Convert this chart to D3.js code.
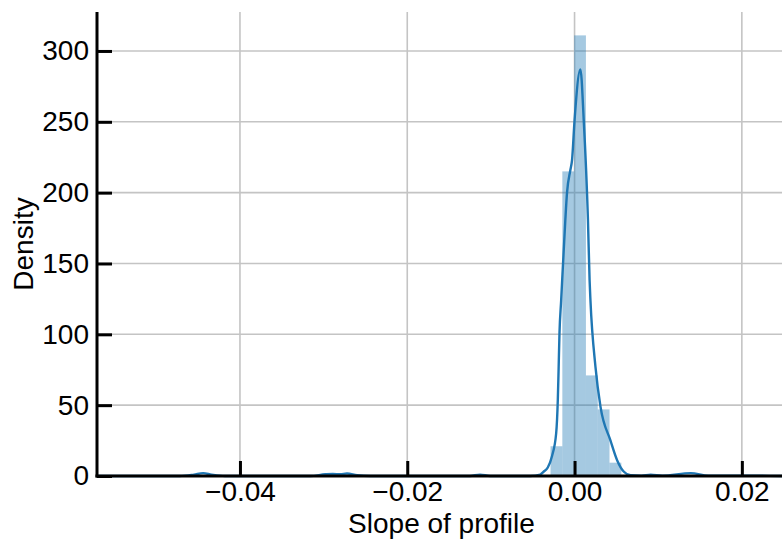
<!DOCTYPE html>
<html>
<head>
<meta charset="utf-8">
<script src="https://cdn.jsdelivr.net/npm/d3@7"></script>
<style>
  body { margin: 0; background: #fff; }
  text { font-family: "Liberation Sans", Arial, sans-serif; }
</style>
</head>
<body>
<div id="chart"></div>
<script>
// histogram bins (slope of profile) and their densities
const binEdges = [-0.00287, -0.00146, -0.00005, 0.00136, 0.00277, 0.00418, 0.00559];
const binDensity = [21, 215, 311, 71, 47, 9.4];

// kde curve
const kdeX = [-0.0571, -0.0472, -0.0455, -0.0444, -0.0434, -0.0418, -0.0316, -0.0298, -0.0289, -0.0280,
  -0.0272, -0.0260, -0.0244, -0.0125, -0.0113, -0.0101, -0.0053, -0.0041, -0.0037, -0.0032,
  -0.0027, -0.0022, -0.0020, -0.0019, -0.0018, -0.0016, -0.0011, -0.0009, -0.0005, -0.0003,
  0.0000, 0.0007, 0.0011, 0.0016, 0.0018, 0.0019, 0.0025, 0.0031, 0.0043, 0.0051,
  0.0059, 0.0067, 0.0080, 0.0091, 0.0105, 0.0139, 0.0160, 0.0190, 0.0249];
const kdeY = [0, 0, 1, 2, 1, 0, 0, 1.2, 1.5, 1.2,
  1.8, 0.5, 0, 0, 1, 0, 0, 1, 3, 6,
  14, 30, 54, 77, 101, 124, 181, 200, 216, 223,
  251, 287, 251, 181, 138, 124, 77, 49, 25, 11,
  3, 0.5, 0.3, 1, 0.3, 2, 0.3, 0.3, 0];

const xTicks = [-0.04, -0.02, 0.00, 0.02];
const yTicks = [0, 50, 100, 150, 200, 250, 300];

const width = 782, height = 540;
const margin = { top: 12, right: 0, bottom: 64, left: 97 };
const fontSize = "28px";

const x = d3.scaleLinear()
  .domain([-0.05709, 0.0248])
  .range([margin.left, width - margin.right]);
const y = d3.scaleLinear()
  .domain([0, 327.5])
  .range([height - margin.bottom, margin.top]);

const svg = d3.select("#chart").append("svg")
  .attr("width", width)
  .attr("height", height);

// grid
svg.append("g").attr("class", "grid")
  .selectAll("line.gx").data(xTicks).enter().append("line")
  .attr("x1", d => x(d)).attr("x2", d => x(d))
  .attr("y1", y.range()[0]).attr("y2", y.range()[1])
  .attr("stroke", "#c4c4c4").attr("stroke-width", 1.6);
svg.select(".grid")
  .selectAll("line.gy").data(yTicks).enter().append("line")
  .attr("x1", x.range()[0]).attr("x2", x.range()[1])
  .attr("y1", d => y(d)).attr("y2", d => y(d))
  .attr("stroke", "#c4c4c4").attr("stroke-width", 1.6);

// histogram bars
svg.append("g")
  .selectAll("rect").data(binDensity).enter().append("rect")
  .attr("x", (d, i) => x(binEdges[i]))
  .attr("width", (d, i) => x(binEdges[i + 1]) - x(binEdges[i]))
  .attr("y", d => y(d))
  .attr("height", d => y(0) - y(d))
  .attr("fill", "#1f77b4")
  .attr("fill-opacity", 0.4);

// kde line
const kde = kdeX.map((v, i) => [v, kdeY[i]]);
svg.append("path")
  .datum(kde)
  .attr("fill", "none")
  .attr("stroke", "#1f77b4")
  .attr("stroke-width", 2.4)
  .attr("stroke-linejoin", "round")
  .attr("d", d3.line().x(d => x(d[0])).y(d => y(d[1])).curve(d3.curveMonotoneX));

// axes, ticks pointing inward
const fmt = d => (d < 0 ? "\u2212" : "") + Math.abs(d).toFixed(2);
const xAxis = svg.append("g")
  .attr("transform", `translate(0,${y(0)})`)
  .call(d3.axisTop(x).tickValues(xTicks).tickSize(15).tickFormat(fmt));
xAxis.selectAll("text")
  .attr("y", 25)
  .attr("dy", null);

const yAxis = svg.append("g")
  .attr("transform", `translate(${x.range()[0]},0)`)
  .call(d3.axisRight(y).tickValues(yTicks).tickSize(15));
yAxis.selectAll("text")
  .attr("x", -8)
  .attr("text-anchor", "end");

svg.selectAll(".domain").remove();
svg.selectAll(".tick line").attr("stroke", "#000").attr("stroke-width", 3);
svg.selectAll(".tick text")
  .attr("fill", "#000")
  .attr("font-size", fontSize)
  .attr("font-family", "'Liberation Sans', Arial, sans-serif");

// spines
svg.append("line")
  .attr("x1", x.range()[0]).attr("x2", x.range()[0])
  .attr("y1", y.range()[1]).attr("y2", y(0) + 1.5)
  .attr("stroke", "#000").attr("stroke-width", 3);
svg.append("line")
  .attr("x1", x.range()[0] - 1.5).attr("x2", x.range()[1])
  .attr("y1", y(0)).attr("y2", y(0))
  .attr("stroke", "#000").attr("stroke-width", 3);

// labels
svg.append("text")
  .attr("x", (x.range()[0] + x.range()[1]) / 2 + 2)
  .attr("y", 533)
  .attr("text-anchor", "middle")
  .attr("font-size", fontSize)
  .text("Slope of profile");

svg.append("text")
  .attr("transform", `translate(33,${(y.range()[0] + y.range()[1]) / 2}) rotate(-90)`)
  .attr("text-anchor", "middle")
  .attr("font-size", fontSize)
  .text("Density");
</script>
</body>
</html>
